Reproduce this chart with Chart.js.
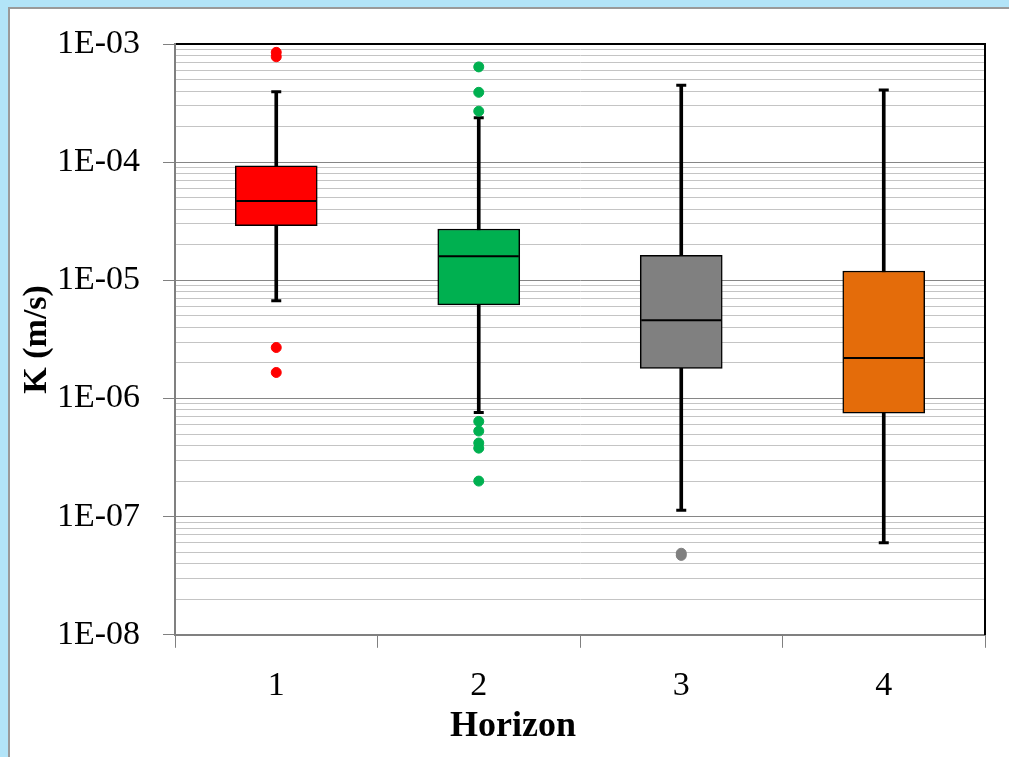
<!DOCTYPE html>
<html>
<head>
<meta charset="utf-8">
<script src="https://cdn.jsdelivr.net/npm/chart.js@4/dist/chart.umd.min.js"></script>
<style>
    html, body { margin: 0; padding: 0; background: #b2e4f8; overflow: hidden; }
    #panel {
        position: absolute; left: 8px; top: 7px; width: 1100px; height: 800px;
        background: #ffffff; border-left: 2px solid #9a9a9a; border-top: 2px solid #9a9a9a;
    }
    #chart { position: absolute; left: 0; top: 0; }
</style>
</head>
<body>
<div id="panel"></div>
<canvas id="chart" width="1009" height="757"></canvas>
<script>
    // Box plot data (K in m/s) per horizon
    const horizons = ["1", "2", "3", "4"];
    const whiskerLow = [6.7e-6, 7.6e-7, 1.13e-7, 6.0e-8];
    const q1 = [2.9e-5, 6.2e-6, 1.8e-6, 7.5e-7];
    const median = [4.7e-5, 1.6e-5, 4.6e-6, 2.2e-6];
    const q3 = [9.3e-5, 2.72e-5, 1.63e-5, 1.2e-5];
    const whiskerHigh = [3.95e-4, 2.38e-4, 4.47e-4, 4.08e-4];

    // outliers per horizon
    const outliers1 = [8.5e-4, 7.8e-4, 2.7e-6, 1.66e-6];
    const outliers2 = [6.4e-4, 3.9e-4, 2.7e-4, 6.4e-7, 5.3e-7, 4.2e-7, 3.8e-7, 2.0e-7];
    const outliers3 = [4.9e-8, 4.7e-8];
    const outliers4 = [];

    const boxColors = ["#ff0000", "#00b050", "#808080", "#e46c0a"];

    // y axis ticks: decades with labels, minor steps between
    const decades = [1e-8, 1e-7, 1e-6, 1e-5, 1e-4, 1e-3];
    const yTickLabels = ["1E-08", "1E-07", "1E-06", "1E-05", "1E-04", "1E-03"];
    const minorSteps = [2, 3, 4, 5, 6, 7, 8, 9];

    const yTicks = [];
    decades.forEach((d, i) => {
        yTicks.push({ value: d, major: true, label: yTickLabels[i] });
        if (i < decades.length - 1) {
            minorSteps.forEach(m => yTicks.push({ value: parseFloat((m * d).toPrecision(3)), major: false, label: "" }));
        }
    });

    const allOutliers = [outliers1, outliers2, outliers3, outliers4];
    const outlierDatasets = allOutliers.map((list, i) => ({
        type: "line",
        data: list.map(v => ({ x: horizons[i], y: v })),
        showLine: false,
        pointStyle: "circle",
        pointRadius: 5,
        pointBorderWidth: 1,
        pointBackgroundColor: boxColors[i],
        pointBorderColor: boxColors[i],
        order: 1
    }));

    const serif = "'Liberation Serif', 'Times New Roman', serif";

    new Chart(document.getElementById("chart").getContext("2d"), {
        type: "bar",
        data: {
            labels: horizons,
            datasets: [
                {
                    // whiskers
                    data: horizons.map((h, i) => [whiskerLow[i], whiskerHigh[i]]),
                    backgroundColor: "#000000",
                    barThickness: 3,
                    grouped: false,
                    order: 5
                },
                {
                    // boxes
                    data: horizons.map((h, i) => [q1[i], q3[i]]),
                    backgroundColor: boxColors,
                    borderColor: "#000000",
                    borderWidth: 1.5,
                    borderSkipped: false,
                    barThickness: 82,
                    grouped: false,
                    order: 4
                },
                {
                    // medians
                    type: "line",
                    data: median,
                    showLine: false,
                    pointStyle: "line",
                    pointRadius: 40,
                    pointBorderWidth: 2,
                    pointBorderColor: "#000000",
                    order: 3
                },
                {
                    type: "line",
                    data: whiskerHigh,
                    showLine: false,
                    pointStyle: "line",
                    pointRadius: 5,
                    pointBorderWidth: 3,
                    pointBorderColor: "#000000",
                    order: 2
                },
                {
                    type: "line",
                    data: whiskerLow,
                    showLine: false,
                    pointStyle: "line",
                    pointRadius: 5,
                    pointBorderWidth: 3,
                    pointBorderColor: "#000000",
                    order: 2
                },
                ...outlierDatasets
            ]
        },
        options: {
            responsive: false,
            animation: false,
            layout: { autoPadding: false, padding: { left: 17, top: 0, right: 0, bottom: 0 } },
            plugins: {
                legend: { display: false },
                tooltip: { enabled: false },
                title: {
                    display: true,
                    text: "Horizon",
                    position: "bottom",
                    color: "#000000",
                    font: { family: serif, size: 36, weight: "bold" },
                    padding: { top: 0, bottom: 9 }
                }
            },
            scales: {
                x: {
                    type: "category",
                    offset: true,
                    grid: {
                        offset: true,
                        drawOnChartArea: false,
                        color: "#808080",
                        tickLength: 13
                    },
                    border: { color: "#808080", width: 2 },
                    ticks: {
                        color: "#000000",
                        padding: 18,
                        font: { family: serif, size: 34 }
                    },
                    afterFit: s => { s.height = 70; }
                },
                x2: {
                    type: "category",
                    position: "top",
                    grid: { display: false },
                    ticks: { display: false },
                    border: { color: "#000000", width: 2 },
                    afterFit: s => { s.height = 44; }
                },
                y: {
                    type: "logarithmic",
                    min: 1e-8,
                    max: 1e-3,
                    afterBuildTicks: s => { s.ticks = yTicks.map(t => ({ value: t.value, major: t.major })); },
                    grid: {
                        color: c => (c.tick && c.tick.major ? "#868686" : "#c4c4c4"),
                        tickColor: c => (c.tick && c.tick.major ? "#808080" : "rgba(0,0,0,0)"),
                        tickLength: 12,
                        lineWidth: 1
                    },
                    border: { color: "#808080", width: 2 },
                    ticks: {
                        autoSkip: false,
                        color: "#000000",
                        padding: 23,
                        font: { family: serif, size: 34 },
                        callback: (value, index) => yTicks[index].label
                    },
                    title: {
                        display: true,
                        text: "K (m/s)",
                        color: "#000000",
                        font: { family: serif, size: 34, weight: "bold" },
                        padding: { top: 0, bottom: 0 }
                    },
                    afterFit: s => { s.width = 158; }
                },
                y2: {
                    type: "linear",
                    position: "right",
                    grid: { display: false },
                    ticks: { display: false },
                    border: { color: "#000000", width: 2 },
                    afterFit: s => { s.width = 24; }
                }
            }
        }
    });
</script>
</body>
</html>
